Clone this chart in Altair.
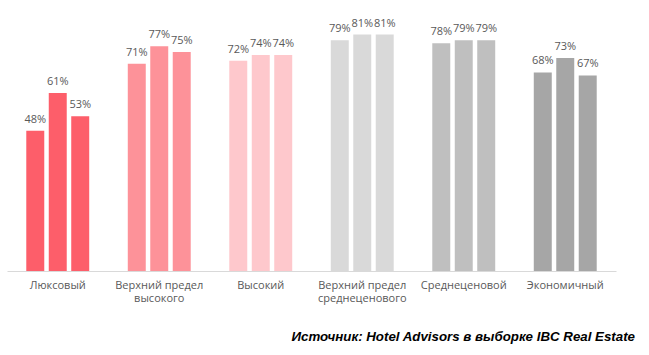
import altair as alt
import pandas as pd

categories = [
    "Люксовый",
    "Верхний предел\nвысокого",
    "Высокий",
    "Верхний предел\nсреднеценового",
    "Среднеценовой",
    "Экономичный",
]
series = ["Период 1", "Период 2", "Период 3"]
values = [
    [48, 61, 53],
    [71, 77, 75],
    [72, 74, 74],
    [79, 81, 81],
    [78, 79, 79],
    [68, 73, 67],
]
colors = ["#fd5e6a", "#fd9299", "#fec8cc", "#d9d9d9", "#bfbfbf", "#a6a6a6"]
source = "Источник: Hotel Advisors в выборке IBC Real Estate"

rows = []
for c, vals in zip(categories, values):
    for s, v in zip(series, vals):
        rows.append({"category": c, "series": s, "value": v})
df = pd.DataFrame(rows)

FONT = "Open Sans"

x = alt.X(
    "category:N",
    sort=categories,
    scale=alt.Scale(paddingInner=0.38, paddingOuter=0.19),
    axis=alt.Axis(
        title=None,
        labelAngle=0,
        ticks=False,
        domainColor="#d9d9d9",
        domainWidth=1,
        labelPadding=8,
        labelFont=FONT,
        labelFontSize=11,
        labelColor="#595959",
        labelLineHeight=13,
        labelExpr="split(datum.label, '\\n')",
    ),
)
xo = alt.XOffset("series:N", sort=series, scale=alt.Scale(paddingInner=0.2, paddingOuter=0))
y = alt.Y("value:Q", scale=alt.Scale(domain=[0, 89.4]), axis=None)

base = alt.Chart(df)

bars = base.mark_bar().encode(
    x=x,
    xOffset=xo,
    y=y,
    color=alt.Color("category:N", sort=categories,
                    scale=alt.Scale(domain=categories, range=colors), legend=None),
)

labels = base.transform_calculate(label="datum.value + '%'").mark_text(
    baseline="alphabetic", dy=-8, font=FONT, fontSize=11, color="#595959"
).encode(x=x, xOffset=xo, y=y, text="label:N")

src = alt.Chart(pd.DataFrame({"t": [source]})).mark_text(
    align="right", baseline="middle", font="Liberation Sans",
    fontSize=13.3, fontWeight="bold", fontStyle="italic", color="#000000"
).encode(text="t:N", x=alt.value(628), y=alt.value(327))

chart = alt.layer(bars, labels, src).properties(
    width=609,
    height=261,
    background="white",
    autosize=alt.AutoSizeParams(type="none"),
    padding={"left": 7, "top": 10, "right": 33, "bottom": 84},
).configure_view(stroke=None, strokeWidth=0)

chart.save("out.html", embed_options={"renderer": "svg", "actions": False})
